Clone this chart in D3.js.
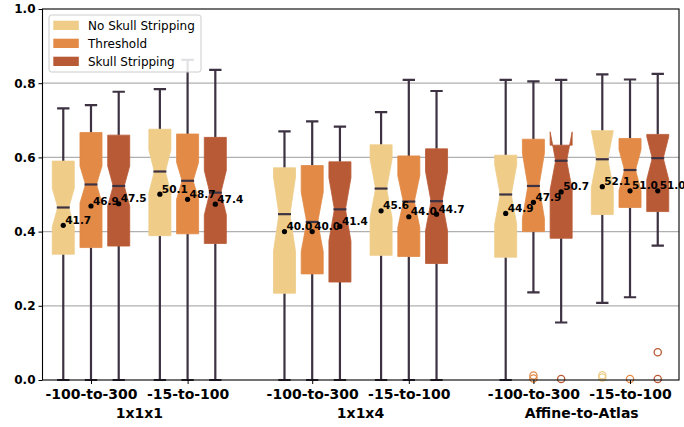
<!DOCTYPE html>
<html>
<head>
<meta charset="utf-8">
<script src="https://cdn.jsdelivr.net/npm/d3@7"></script>
<style>
  body { margin: 0; background: #fff; }
  svg { display: block; font-family: "DejaVu Sans", sans-serif; }
</style>
</head>
<body>
<svg width="684" height="427"></svg>
<script>
// categories
var groups = ["1x1x1", "1x1x4", "Affine-to-Atlas"];
var ranges = ["-100-to-300", "-15-to-100"];
var methods = ["No Skull Stripping", "Threshold", "Skull Stripping"];

// box stats, order: group -> range -> method
var whiskerHigh = [0.732, 0.741, 0.777, 0.784, 0.863, 0.836,
                   0.670, 0.697, 0.683, 0.722, 0.809, 0.779,
                   0.809, 0.805, 0.809, 0.824, 0.810, 0.825];
var q3 =          [0.590, 0.667, 0.660, 0.676, 0.663, 0.654,
                   0.572, 0.578, 0.588, 0.634, 0.604, 0.623,
                   0.606, 0.649, 0.633, 0.672, 0.651, 0.662];
var median =      [0.465, 0.527, 0.523, 0.562, 0.537, 0.505,
                   0.447, 0.426, 0.460, 0.516, 0.481, 0.482,
                   0.500, 0.523, 0.591, 0.595, 0.566, 0.598];
var q1 =          [0.339, 0.357, 0.361, 0.389, 0.394, 0.368,
                   0.234, 0.286, 0.264, 0.336, 0.333, 0.314,
                   0.331, 0.400, 0.382, 0.446, 0.465, 0.454];
var whiskerLow =  [0, 0, 0, 0, 0, 0,
                   0, 0, 0, 0, 0, 0,
                   0, 0.236, 0.155, 0.208, 0.223, 0.362];
var notchHalf =   [0.052, 0.050, 0.054, 0.058, 0.050, 0.060,
                   0.100, 0.080, 0.085, 0.080, 0.070, 0.080,
                   0.080, 0.088, 0.078, 0.077, 0.055, 0.058];
var meanPct =     [41.7, 46.9, 47.5, 50.1, 48.7, 47.4,
                   40.0, 40.0, 41.4, 45.6, 44.0, 44.7,
                   44.9, 47.9, 50.7, 52.1, 51.0, 51.0];
var outliers =    [[], [], [], [], [], [],
                   [], [], [], [], [], [],
                   [], [0.012, 0.004], [0.003], [0.013, 0.007], [0.003], [0.075, 0.003]];

var yTicks = [0.0, 0.2, 0.4, 0.6, 0.8, 1.0];

var colors = ["#efcd89", "#e28a46", "#b95a36"];
var dark = "#3c3242";

// layout
var margin = {top: 9, right: 5, bottom: 47, left: 42.5};
var W = 684, H = 427;
var width = W - margin.left - margin.right;
var height = H - margin.top - margin.bottom;

var tickPos = [0, 1, 2.29, 3.29, 4.58, 5.58];
var offset = [-0.287, 0, 0.287];
var boxW = 0.228;

var x = d3.scaleLinear().domain([-0.502, 6.087]).range([0, width]);
var y = d3.scaleLinear().domain([0, 1]).range([height, 0]);

var svg = d3.select("svg");
var g = svg.append("g").attr("transform", "translate(" + margin.left + "," + margin.top + ")");

// grid
g.append("g").selectAll("line")
  .data(yTicks.slice(1, 5))
  .enter().append("line")
  .attr("x1", 0).attr("x2", width)
  .attr("y1", function(d) { return y(d); })
  .attr("y2", function(d) { return y(d); })
  .style("stroke", "#b0b0b0").style("stroke-width", 1.2);

// build rows
var rows = [];
groups.forEach(function(gr, gi) {
  ranges.forEach(function(r, ri) {
    methods.forEach(function(m, mi) {
      var i = gi * 6 + ri * 3 + mi;
      rows.push({
        cx: tickPos[gi * 2 + ri] + offset[mi],
        mi: mi,
        hi: whiskerHigh[i], q3: q3[i], med: median[i], q1: q1[i], lo: whiskerLow[i],
        nh: notchHalf[i], mean: meanPct[i] / 100, label: meanPct[i].toFixed(1),
        out: outliers[i]
      });
    });
  });
});

var bw = x(boxW) - x(0);

function boxPath(d) {
  var l = x(d.cx) - bw / 2, r = x(d.cx) + bw / 2, q = bw / 4;
  var nlo = y(d.med - d.nh), nhi = y(d.med + d.nh), ym = y(d.med);
  return "M" + l + "," + y(d.q1) +
    "L" + r + "," + y(d.q1) +
    "L" + r + "," + nlo +
    "L" + (r - q) + "," + ym +
    "L" + r + "," + nhi +
    "L" + r + "," + y(d.q3) +
    "L" + l + "," + y(d.q3) +
    "L" + l + "," + nhi +
    "L" + (l + q) + "," + ym +
    "L" + l + "," + nlo + "Z";
}

var marks = g.append("g");

// whiskers
marks.selectAll(".wh").data(rows).enter().append("path")
  .attr("d", function(d) {
    var cx = x(d.cx);
    return "M" + cx + "," + y(d.q3) + "V" + y(d.hi) + "M" + cx + "," + y(d.q1) + "V" + y(d.lo);
  })
  .style("stroke", dark).style("stroke-width", 2.2).style("fill", "none");

// caps
marks.selectAll(".cap").data(rows).enter().append("path")
  .attr("d", function(d) {
    var cx = x(d.cx), c = bw * 0.28;
    return "M" + (cx - c) + "," + y(d.hi) + "H" + (cx + c) + "M" + (cx - c) + "," + y(d.lo) + "H" + (cx + c);
  })
  .style("stroke", dark).style("stroke-width", 2.2).style("fill", "none");

// boxes
marks.selectAll(".box").data(rows).enter().append("path")
  .attr("d", boxPath)
  .style("fill", function(d) { return colors[d.mi]; })
  .style("stroke", function(d) { return colors[d.mi]; })
  .style("stroke-width", 0.8);

// medians
marks.selectAll(".med").data(rows).enter().append("line")
  .attr("x1", function(d) { return x(d.cx) - bw / 4 - 1; })
  .attr("x2", function(d) { return x(d.cx) + bw / 4 + 1; })
  .attr("y1", function(d) { return y(d.med); })
  .attr("y2", function(d) { return y(d.med); })
  .style("stroke", dark).style("stroke-width", 2.2);

// outliers
rows.forEach(function(d) {
  d.out.forEach(function(v) {
    marks.append("circle")
      .attr("cx", x(d.cx)).attr("cy", y(v)).attr("r", 3.6)
      .style("fill", "none")
      .style("stroke", colors[d.mi]).style("stroke-width", 1.3);
  });
});

// means
marks.selectAll(".mean").data(rows).enter().append("circle")
  .attr("cx", function(d) { return x(d.cx); })
  .attr("cy", function(d) { return y(d.mean); })
  .attr("r", 2.6)
  .style("fill", "#000");

marks.selectAll(".lbl").data(rows).enter().append("text")
  .attr("x", function(d) { return x(d.cx) + 2; })
  .attr("y", function(d) { return y(d.mean) - 1.5; })
  .style("font-size", "10.5px").style("font-weight", "bold")
  .text(function(d) { return d.label; });

// spines
g.append("rect").attr("x", 0).attr("y", 0).attr("width", width).attr("height", height)
  .style("fill", "none").style("stroke", "#000").style("stroke-width", 1.1);

// y axis
var yAxis = g.append("g").call(d3.axisLeft(y).tickValues(yTicks).tickFormat(d3.format(".1f")).tickSizeOuter(0).tickSize(4));
yAxis.select(".domain").remove();
yAxis.selectAll("text").style("font-size", "12px").style("font-weight", "bold")
  .style("font-family", "DejaVu Sans").attr("x", -7);

// x axis
var xAxis = g.append("g").attr("transform", "translate(0," + height + ")")
  .call(d3.axisBottom(x).tickValues(tickPos).tickFormat(function(d, i) { return ranges[i % 2]; }).tickSizeOuter(0).tickSize(4));
xAxis.select(".domain").remove();
xAxis.selectAll("text").style("font-size", "14px").style("font-weight", "bold")
  .style("font-family", "DejaVu Sans").attr("y", 9).attr("dy", "0.71em");

g.append("g").selectAll("text").data(groups).enter().append("text")
  .attr("x", function(d, i) { return x((tickPos[i * 2] + tickPos[i * 2 + 1]) / 2); })
  .attr("y", height + 38)
  .style("text-anchor", "middle")
  .style("font-size", "14px").style("font-weight", "bold")
  .text(function(d) { return d; });

// legend
var leg = svg.append("g").attr("transform", "translate(49,15)");
leg.append("rect").attr("width", 152).attr("height", 57).attr("rx", 2.5)
  .style("fill", "#fff").style("fill-opacity", 0.85)
  .style("stroke", "#cccccc").style("stroke-width", 1);
methods.forEach(function(m, i) {
  leg.append("rect").attr("x", 4.3).attr("y", 5.7 + i * 18).attr("width", 25.5).attr("height", 9.3)
    .style("fill", colors[i]);
  leg.append("text").attr("x", 39).attr("y", 10.3 + i * 18).attr("dy", "0.35em")
    .style("font-size", "12px").text(m);
});
</script>
</body>
</html>
